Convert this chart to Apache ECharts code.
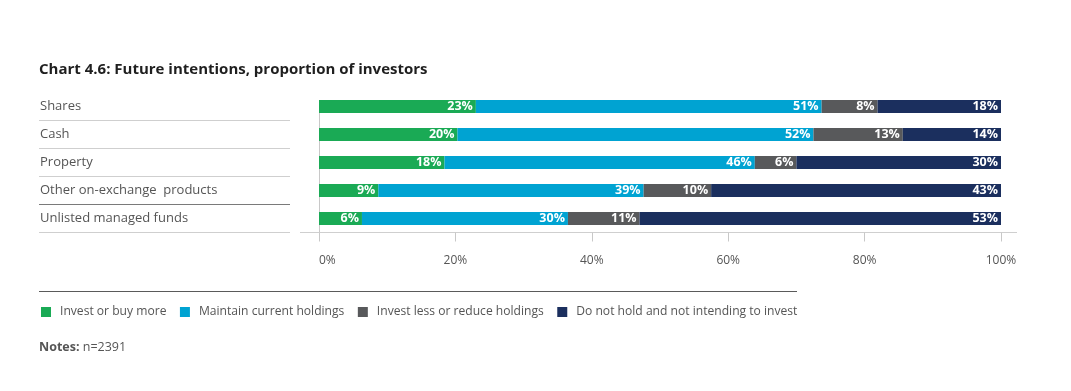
<!DOCTYPE html>
<html><head><meta charset="utf-8">
<script src="https://cdn.jsdelivr.net/npm/echarts@6/dist/echarts.min.js"></script>
<style>html,body{margin:0;padding:0;background:#fff}#c{width:1071px;height:391px}</style>
</head><body><div id="c"></div>
<script>
const categories = ["Shares", "Cash", "Property", "Other on-exchange  products", "Unlisted managed funds"];
const seriesNames = ["Invest or buy more", "Maintain current holdings", "Invest less or reduce holdings", "Do not hold and not intending to invest"];
const investMore = [23.0, 20.3, 18.4, 8.7, 6.3];
const maintain = [50.7, 52.2, 45.5, 38.9, 30.2];
const investLess = [8.2, 13.1, 6.1, 9.9, 10.5];
const doNotHold = [18.1, 14.4, 30.0, 42.5, 53.0];
const xTicks = [0, 20, 40, 60, 80, 100];
const colors = ["#1aaa55", "#00a3d2", "#58595b", "#1b2f5e"];
const FONT = "'Open Sans', 'Noto Sans', sans-serif";

const chart = echarts.init(document.getElementById('c'), null, {renderer: 'canvas'});
const values = [investMore, maintain, investLess, doNotHold];
const series = values.map((v, i) => ({
  name: seriesNames[i], type: 'bar', stack: 'all', barWidth: 13,
  data: v, itemStyle: {color: colors[i]},
  label: {show: true, position: 'insideRight', distance: 3, color: '#fff', fontFamily: FONT,
    fontWeight: 'bold', fontSize: 12.5, formatter: p => Math.round(p.value) + '%'},
  emphasis: {disabled: true}, animation: false
}));

const sepLines = [120.5, 148.5, 176.5, 204.5, 232.5].map((y, i) => ({
  type: 'line', shape: {x1: 39, y1: y, x2: 290, y2: y},
  style: {stroke: i === 3 ? '#7a7a7a' : '#cfcfcf', lineWidth: 1.2}
}));

chart.setOption({
  animation: false,
  title: {text: 'Chart 4.6: Future intentions, proportion of investors', left: 39, top: 62, padding: 0,
    textStyle: {fontFamily: FONT, fontWeight: 'bold', fontSize: 15, color: '#1f1f1f'}},
  grid: {left: 319, right: 70, top: 92.5, height: 140, containLabel: false},
  xAxis: {type: 'value', min: 0, max: 100, interval: 20,
    axisLine: {show: false},
    axisTick: {show: true, length: 9, inside: false, lineStyle: {color: '#c8c8c8'}},
    splitLine: {show: false},
    axisLabel: {margin: 22, color: '#555', fontFamily: FONT, fontSize: 12, alignMinLabel: 'left', formatter: v => v + '%'}},
  yAxis: {type: 'category', data: categories, inverse: true,
    axisLine: {show: false}, axisTick: {show: false},
    axisLabel: {align: 'left', margin: 279, color: '#555', fontFamily: FONT, fontSize: 13}},
  legend: {left: 36, top: 301, icon: 'rect', itemWidth: 10, itemHeight: 10, itemGap: 13.5,
    textStyle: {color: '#555', fontFamily: FONT, fontSize: 12.1, padding: [0, 0, 0, 4]},
    selectedMode: false, data: seriesNames},
  series: series,
  graphic: [
    ...sepLines,
    {type: 'line', shape: {x1: 300, y1: 232.5, x2: 1017, y2: 232.5}, style: {stroke: '#cfcfcf', lineWidth: 1.2}},
    {type: 'line', shape: {x1: 319.5, y1: 100, x2: 319.5, y2: 232}, style: {stroke: '#c8c8c8', lineWidth: 1}},
    {type: 'line', shape: {x1: 39, y1: 291.5, x2: 797, y2: 291.5}, style: {stroke: '#5a5a5a', lineWidth: 1}},
    {type: 'text', left: 39, top: 341, style: {text: '{b|Notes:} n=2391', fontFamily: FONT, fontSize: 12.5, fill: '#555',
      rich: {b: {fontWeight: 'bold', fontFamily: FONT, fontSize: 12.5, fill: '#555'}}}}
  ]
});
</script></body></html>
